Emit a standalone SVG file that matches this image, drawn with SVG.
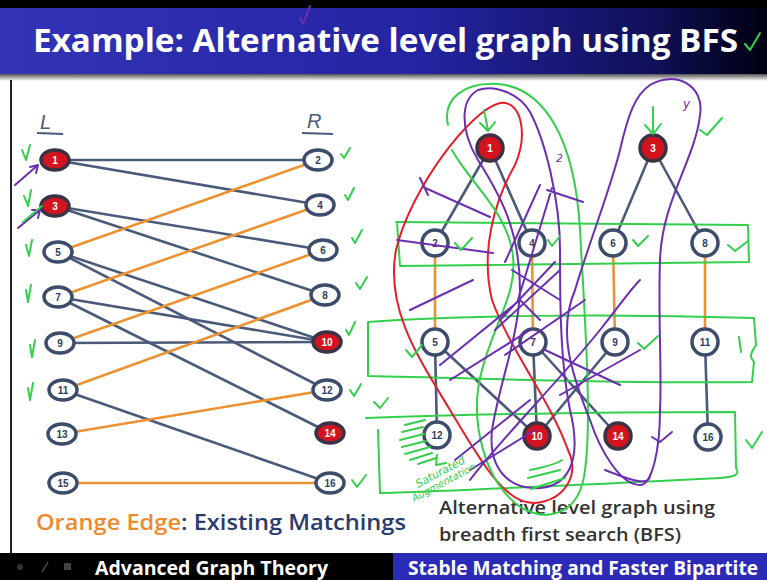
<svg xmlns="http://www.w3.org/2000/svg" width="767" height="580" viewBox="0 0 767 580">
  <defs>
    <linearGradient id="titleGrad" x1="0" y1="0" x2="1" y2="0">
      <stop offset="0" stop-color="#3333b8"/>
      <stop offset="0.55" stop-color="#2424a2"/>
      <stop offset="0.85" stop-color="#10105a"/>
      <stop offset="1" stop-color="#000010"/>
    </linearGradient>
    <linearGradient id="shadeGrad" x1="0" y1="0" x2="0" y2="1">
      <stop offset="0" stop-color="#555"/>
      <stop offset="1" stop-color="#fff"/>
    </linearGradient>
    <style>
      .title { font-family: "Open Sans", "Liberation Sans", sans-serif; font-weight: 700; fill: #fff; }
      .foot { font-family: "Open Sans", "Liberation Sans", sans-serif; font-weight: 700; fill: #fff; font-size: 19px; }
      .body { font-family: "Open Sans", "Liberation Sans", sans-serif; font-weight: 600; }
      .nd { fill: #fff; stroke: #3d4c6a; stroke-width: 3.5; }
      .nr { fill: #d3141e; stroke: #3a3346; stroke-width: 3.5; }
      .lbl { font-family: "Liberation Sans", sans-serif; font-weight: 700; font-size: 10px; fill: #2f3d5c; text-anchor: middle; }
      .lblr { font-family: "Liberation Sans", sans-serif; font-weight: 700; font-size: 10px; fill: #fff; text-anchor: middle; }
      .eb { stroke: #4a5a78; stroke-width: 2.6; fill: none; }
      .eo { stroke: #ec9230; stroke-width: 2.6; fill: none; }
      .hg { stroke: #34cf4c; stroke-width: 2; fill: none; stroke-linecap: round; stroke-linejoin: round; }
      .hp { stroke: #6b2fb2; stroke-width: 2; fill: none; stroke-linecap: round; stroke-linejoin: round; }
      .hr { stroke: #e3202a; stroke-width: 2; fill: none; stroke-linecap: round; }
      .hand { font-family: "DejaVu Sans", sans-serif; font-style: italic; }
    </style>
  </defs>

  <!-- page -->
  <rect x="0" y="0" width="767" height="580" fill="#fff"/>

  <!-- title bar -->
  <rect x="0" y="0" width="767" height="8" fill="#000"/>
  <rect x="0" y="8" width="767" height="66" fill="url(#titleGrad)"/>
  <rect x="0" y="74" width="767" height="7" fill="url(#shadeGrad)"/>
  <text class="title" x="33" y="52" font-size="33" textLength="705" lengthAdjust="spacingAndGlyphs">Example: Alternative level graph using BFS</text>

  <!-- left frame line -->
  <rect x="10" y="80" width="2" height="474" fill="#222"/>

  <!-- footer -->
  <rect x="0" y="553" width="767" height="27" fill="#000"/>
  <rect x="393" y="553" width="374" height="27" fill="#2b2bb8"/>
  <circle cx="20" cy="567" r="3" fill="#333"/>
  <line x1="42" y1="572" x2="48" y2="562" stroke="#444" stroke-width="1.5"/>
  <rect x="64" y="563" width="7" height="7" fill="#444"/>
  <text class="foot" x="95" y="575" textLength="233" lengthAdjust="spacingAndGlyphs">Advanced Graph Theory</text>
  <text class="foot" x="408" y="575" textLength="350" lengthAdjust="spacingAndGlyphs">Stable Matching and Faster Bipartite</text>

  <!-- captions -->
  <text class="body" x="36" y="530" font-size="21" textLength="370" lengthAdjust="spacingAndGlyphs"><tspan fill="#ec8a2e">Orange Edge</tspan><tspan fill="#2c3a6c">: Existing Matchings</tspan></text>
  <text class="body" x="439" y="514" font-size="18" fill="#333" textLength="276" lengthAdjust="spacingAndGlyphs">Alternative level graph using</text>
  <text class="body" x="439" y="541" font-size="18" fill="#333" textLength="242" lengthAdjust="spacingAndGlyphs">breadth first search (BFS)</text>

  <!-- side labels -->
  <g id="label-L">
    <text x="40" y="129" font-family="Liberation Sans, sans-serif" font-size="20" font-style="italic" fill="#4a5a7a">L</text>
    <line x1="37" y1="133" x2="63" y2="134" stroke="#4a5a7a" stroke-width="2"/>
  </g>
  <g id="label-R">
    <text x="307" y="128" font-family="Liberation Sans, sans-serif" font-size="20" font-style="italic" fill="#4a5a7a">R</text>
    <line x1="302" y1="133" x2="333" y2="134" stroke="#4a5a7a" stroke-width="2"/>
  </g>

  <!-- bipartite graph connectors -->
  <g id="bipartite-edges">
    <line class="eb" x1="55" y1="160" x2="318" y2="160"/>
    <line class="eb" x1="55" y1="160" x2="320" y2="205"/>
    <line class="eb" x1="55" y1="206" x2="323" y2="250"/>
    <line class="eb" x1="55" y1="206" x2="325" y2="295"/>
    <line class="eb" x1="58" y1="252" x2="327" y2="342"/>
    <line class="eb" x1="58" y1="252" x2="327" y2="390"/>
    <line class="eb" x1="58" y1="297" x2="327" y2="342"/>
    <line class="eb" x1="58" y1="297" x2="330" y2="433"/>
    <line class="eb" x1="60" y1="343" x2="327" y2="342"/>
    <line class="eb" x1="63" y1="390" x2="330" y2="483"/>
    <line class="eo" x1="58" y1="252" x2="318" y2="160"/>
    <line class="eo" x1="58" y1="297" x2="320" y2="205"/>
    <line class="eo" x1="60" y1="343" x2="323" y2="250"/>
    <line class="eo" x1="63" y1="390" x2="325" y2="295"/>
    <line class="eo" x1="62" y1="434" x2="327" y2="390"/>
    <line class="eo" x1="63" y1="483" x2="330" y2="483"/>
  </g>

  <!-- left side nodes -->
  <g id="L1"><ellipse class="nr" cx="55" cy="160" rx="14" ry="10"/><text class="lblr" x="55" y="164">1</text></g>
  <g id="L3"><ellipse class="nr" cx="55" cy="206" rx="14" ry="10"/><text class="lblr" x="55" y="210">3</text></g>
  <g id="L5"><ellipse class="nd" cx="58" cy="252" rx="14" ry="10"/><text class="lbl" x="58" y="256">5</text></g>
  <g id="L7"><ellipse class="nd" cx="58" cy="297" rx="14" ry="10"/><text class="lbl" x="58" y="301">7</text></g>
  <g id="L9"><ellipse class="nd" cx="60" cy="343" rx="14" ry="10"/><text class="lbl" x="60" y="347">9</text></g>
  <g id="L11"><ellipse class="nd" cx="63" cy="390" rx="14" ry="10"/><text class="lbl" x="63" y="394">11</text></g>
  <g id="L13"><ellipse class="nd" cx="62" cy="434" rx="14" ry="10"/><text class="lbl" x="62" y="438">13</text></g>
  <g id="L15"><ellipse class="nd" cx="63" cy="483" rx="14" ry="10"/><text class="lbl" x="63" y="487">15</text></g>

  <!-- right side nodes -->
  <g id="R2"><ellipse class="nd" cx="318" cy="160" rx="14" ry="10"/><text class="lbl" x="318" y="164">2</text></g>
  <g id="R4"><ellipse class="nd" cx="320" cy="205" rx="14" ry="10"/><text class="lbl" x="320" y="209">4</text></g>
  <g id="R6"><ellipse class="nd" cx="323" cy="250" rx="14" ry="10"/><text class="lbl" x="323" y="254">6</text></g>
  <g id="R8"><ellipse class="nd" cx="325" cy="295" rx="14" ry="10"/><text class="lbl" x="325" y="299">8</text></g>
  <g id="R10"><ellipse class="nr" cx="327" cy="342" rx="14" ry="10"/><text class="lblr" x="327" y="346">10</text></g>
  <g id="R12"><ellipse class="nd" cx="327" cy="390" rx="14" ry="10"/><text class="lbl" x="327" y="394">12</text></g>
  <g id="R14"><ellipse class="nr" cx="330" cy="433" rx="14" ry="10"/><text class="lblr" x="330" y="437">14</text></g>
  <g id="R16"><ellipse class="nd" cx="330" cy="483" rx="14" ry="10"/><text class="lbl" x="330" y="487">16</text></g>

  <!-- level graph connectors -->
  <g id="level-edges">
    <line class="eb" x1="490" y1="148" x2="435" y2="243"/>
    <line class="eb" x1="490" y1="148" x2="532" y2="243"/>
    <line class="eb" x1="653" y1="148" x2="613" y2="243"/>
    <line class="eb" x1="653" y1="148" x2="705" y2="243"/>
    <line class="eo" x1="435" y1="243" x2="435" y2="342"/>
    <line class="eo" x1="532" y1="243" x2="533" y2="342"/>
    <line class="eo" x1="613" y1="243" x2="615" y2="342"/>
    <line class="eo" x1="705" y1="243" x2="705" y2="342"/>
    <line class="eb" x1="435" y1="342" x2="437" y2="435"/>
    <line class="eb" x1="435" y1="342" x2="537" y2="436"/>
    <line class="eb" x1="533" y1="342" x2="537" y2="436"/>
    <line class="eb" x1="533" y1="342" x2="618" y2="436"/>
    <line class="eb" x1="615" y1="342" x2="537" y2="436"/>
    <line class="eb" x1="705" y1="342" x2="708" y2="437"/>
  </g>

  <!-- level graph nodes -->
  <g id="N1"><circle class="nr" cx="490" cy="148" r="13"/><text class="lblr" x="490" y="152">1</text></g>
  <g id="N3"><circle class="nr" cx="653" cy="148" r="13"/><text class="lblr" x="653" y="152">3</text></g>
  <g id="N2"><circle class="nd" cx="435" cy="243" r="13"/><text class="lbl" x="435" y="247">2</text></g>
  <g id="N4"><circle class="nd" cx="532" cy="243" r="13"/><text class="lbl" x="532" y="247">4</text></g>
  <g id="N6"><circle class="nd" cx="613" cy="243" r="13"/><text class="lbl" x="613" y="247">6</text></g>
  <g id="N8"><circle class="nd" cx="705" cy="243" r="13"/><text class="lbl" x="705" y="247">8</text></g>
  <g id="N5"><circle class="nd" cx="435" cy="342" r="13"/><text class="lbl" x="435" y="346">5</text></g>
  <g id="N7"><circle class="nd" cx="533" cy="342" r="13"/><text class="lbl" x="533" y="346">7</text></g>
  <g id="N9"><circle class="nd" cx="615" cy="342" r="13"/><text class="lbl" x="615" y="346">9</text></g>
  <g id="N11"><circle class="nd" cx="705" cy="342" r="13"/><text class="lbl" x="705" y="346">11</text></g>
  <g id="N12"><circle class="nd" cx="437" cy="435" r="13"/><text class="lbl" x="437" y="439">12</text></g>
  <g id="N10"><circle class="nr" cx="537" cy="436" r="13"/><text class="lblr" x="537" y="440">10</text></g>
  <g id="N14"><circle class="nr" cx="618" cy="436" r="13"/><text class="lblr" x="618" y="440">14</text></g>
  <g id="N16"><circle class="nd" cx="708" cy="437" r="13"/><text class="lbl" x="708" y="441">16</text></g>

  <!-- pen annotations -->
  <g id="pen-marks">
    <!-- level boxes -->
    <path class="hg" d="M396,222 L748,225 L749,262 L400,266 L397,222"/>
    <path class="hg" d="M368,322 C450,316 600,313 754,318 L756,345 C752,352 748,356 754,362 L752,382 C620,384 480,378 368,376 Z"/>
    <path class="hg" d="M366,418 C480,414 620,412 735,412 L736,468 C740,474 736,477 720,478 C600,484 480,490 380,493 L378,430"/>

    <!-- loops -->
    <path class="hr" d="M500,103 C470,110 410,190 396,250 C385,310 420,360 450,410 C480,460 505,505 535,503 C565,500 580,475 568,450 C550,400 510,350 492,300 C480,250 495,200 515,165 C528,135 522,100 500,103 Z"/>
    <path class="hg" d="M448,125 C442,98 465,82 498,84 C545,88 575,140 580,230 C585,320 592,420 585,470 C580,515 548,522 522,508 C485,485 468,420 482,370 C495,320 520,290 512,250 C505,210 468,180 452,150"/>
    <path class="hp" d="M478,90 C460,100 460,130 478,160 C500,195 520,230 520,290 C518,340 500,380 492,430 C488,470 510,490 540,488 C575,485 580,450 570,410 C560,360 560,300 560,250 C560,200 545,140 530,112 C520,94 495,84 478,90 Z"/>
    <path class="hp" d="M650,85 C675,70 705,85 700,115 C695,160 662,200 660,260 C658,320 662,370 660,410 C660,450 652,485 640,485 C620,485 600,450 590,420 C570,370 558,330 575,290 C590,240 610,190 620,150 C628,115 635,95 650,85 Z"/>
    <path class="hp" d="M470,480 C500,440 560,380 600,330 C620,305 630,290 640,280"/>
    <path class="hp" d="M605,470 C630,480 650,487 650,475"/>

    <!-- cross-out strokes -->
    <path class="hp" d="M423,187 L490,217 M397,240 L493,253 M410,310 L473,280 M547,190 L583,202 M540,185 L505,262 M552,188 L518,300 M420,178 L428,195 M512,270 L560,300 M500,320 L555,262 M495,330 L560,270 M505,355 L585,300 M440,365 L520,300 M450,380 L530,330 M455,460 L530,400 M470,470 L535,430 M545,350 L620,385 M560,395 L640,350 M520,300 L540,320"/>

    <!-- arrows toward free vertices -->
    <path class="hg" d="M653,107 L653,134 M645,125 L653,134 L661,124"/>
    <path class="hg" d="M484,110 L488,130 M480,123 L488,131 L495,122"/>
    <path class="hp" d="M15,185 L38,165 M30,167 L38,165 L36,173"/>
    <path class="hp" d="M18,228 L40,210 M32,210 L40,210 L38,218"/>
    <path class="hg" d="M23,222 L42,206"/>

    <!-- shading on vertex 12 -->
    <path class="hg" d="M405,425 L425,420 M402,432 L423,427 M400,440 L424,434 M402,447 L426,441 M405,454 L430,447 M410,460 L432,453 M418,464 L436,458"/>
    <path class="hg" d="M437,455 L436,465 L446,463"/>

    <!-- check marks -->
    <path class="hg" d="M22,150 L26,160 L30,145 M24,196 L28,206 L31,190 M26,245 L29,256 L32,240 M26,290 L28,302 L31,285 M30,345 L32,357 L35,340 M28,388 L30,400 L33,383"/>
    <path class="hg" d="M341,154 L344,158 L350,148 M345,195 L348,200 L354,188 M352,238 L355,243 L362,230 M356,283 L360,289 L367,277 M346,330 L349,335 L355,322 M350,390 L354,396 L361,384 M352,480 L357,487 L366,475"/>
    <path class="hg" d="M455,243 L461,250 L472,238 M548,240 L552,246 L560,236 M633,240 L638,246 L648,236 M728,245 L735,251 L748,241 M638,343 L644,349 L658,336 M700,130 L707,135 L722,118 M406,350 L412,357 L422,345 M374,402 L380,408 L388,398 M746,440 L752,448 L762,432 M739,337 L741,352"/>
    <path class="hp" d="M652,437 L660,442 L672,432"/>
    <path class="hg" d="M530,470 C540,468 555,465 562,460 M528,478 L560,470 M531,489 L565,478"/>
    <path class="hg" d="M745,44 L750,50 L760,33"/>
    <path class="hp" d="M300,18 L303,24 L310,6"/>

    <!-- handwritten notes -->
    <text class="hand" x="0" y="0" font-size="11" fill="#34cf4c" transform="translate(418,488) rotate(-28)">Saturated</text>
    <text class="hand" x="0" y="0" font-size="10" fill="#34cf4c" transform="translate(414,502) rotate(-28)">Augmentation</text>
    <text class="hand" x="683" y="108" font-size="12" fill="#6b2fb2">y</text>
    <text class="hand" x="556" y="162" font-size="11" fill="#6b2fb2">2</text>
  </g>
</svg>
